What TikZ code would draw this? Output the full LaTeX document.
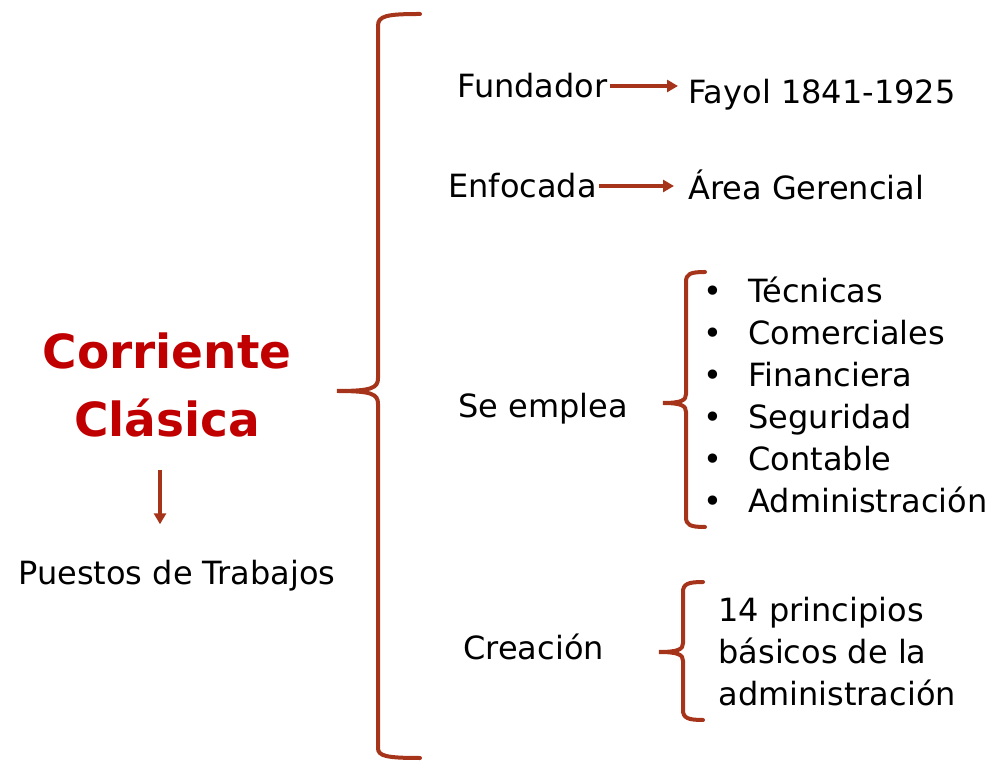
\documentclass[tikz,border=0pt]{standalone}
\usepackage{fontspec}
\setmainfont{DejaVu Sans}
\usetikzlibrary{arrows.meta}

\definecolor{llavecol}{HTML}{A5341A}
\definecolor{titulocol}{HTML}{C00000}

\tikzset{
  texto/.style={anchor=base west, inner sep=0pt, font=\fontsize{16}{21}\selectfont},
  llave/.style={draw=llavecol, line width=2pt, line cap=round},
  flecha/.style={draw=llavecol, line width=1.6pt, -{Triangle[length=5.5pt,width=6pt]}}
}

\begin{document}
\begin{tikzpicture}[x=0.5pt,y=-0.5pt]
  \useasboundingbox (0,0) rectangle (995,763);

  % titulo
  \node[inner sep=0pt, align=center, text=titulocol,
        font=\fontsize{23.5}{34}\selectfont\bfseries] (titulo) at (167,385)
        {Corriente\\Clásica};
  \node[texto, anchor=base] (puestos) at (177,585) {Puestos de Trabajos};
  \draw[flecha] ([xshift=-3.5pt,yshift=-16pt]titulo.south)
             -- ([xshift=-8.5pt,yshift=18pt]puestos.north);

  % llave grande
  \draw[llave] (420,14) .. controls (386,14) and (378,16) .. (378,26)
     -- (378,378) .. controls (378,388) and (372,391) .. (337,391)
     .. controls (372,391) and (378,394) .. (378,404)
     -- (378,748) .. controls (378,756) and (386,758) .. (420,758);

  % fundador
  \node[texto] (fund) at (457,98) {Fundador};
  \node[texto] (fayol) at (688,104) {Fayol 1841-1925};
  \draw[flecha, shorten <=1pt, shorten >=5pt] (fund.east |- 0,86) -- (fayol.west |- 0,86);

  % enfocada
  \node[texto] (enfo) at (448,198) {Enfocada};
  \node[texto] (area) at (688,200) {Área Gerencial};
  \draw[flecha, shorten <=1pt, shorten >=7pt] (enfo.east |- 0,186) -- (area.west |- 0,186);

  % se emplea
  \node[texto] (emplea) at (458,418) {Se emplea};
  \draw[llave] (705,272) .. controls (690,272) and (686,274) .. (686,282)
     -- (686,394) .. controls (686,400) and (682,403) .. (663,403)
     .. controls (682,403) and (686,406) .. (686,412)
     -- (686,517) .. controls (686,525) and (690,527) .. (705,527);
  \foreach \t [count=\i, evaluate=\i as \yy using 261+42*\i] in
      {Técnicas, Comerciales, Financiera, Seguridad, Contable, Administración}{
    \node[texto, anchor=base] (bala\i) at (713,\yy) {•};
    \node[texto] (item\i) at (748,\yy) {\t};
  }

  % creacion
  \node[texto] (crea) at (463,660) {Creación};
  \draw[llave] (703,582) .. controls (688,582) and (683,584) .. (683,592)
     -- (683,643) .. controls (683,649) and (679,652) .. (659,652)
     .. controls (679,652) and (683,655) .. (683,661)
     -- (683,710) .. controls (683,718) and (688,720) .. (703,720);
  \node[texto, align=left, anchor=north west] (princ) at (718,597)
    {14 principios\\básicos de la\\administración};
\end{tikzpicture}
\end{document}
